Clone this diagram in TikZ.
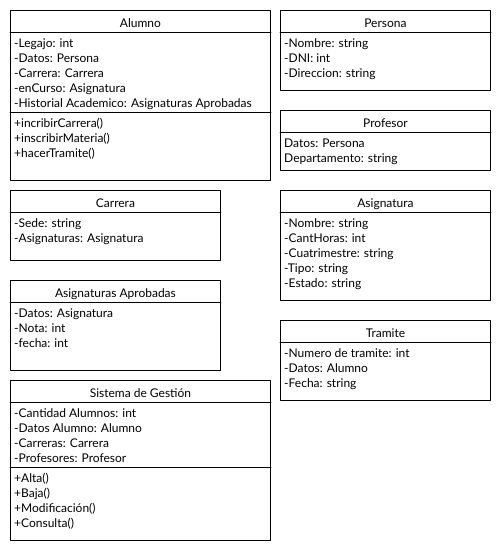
\documentclass[tikz,border=0pt]{standalone}
\usepackage{fontspec}
\setmainfont{Lato}
\usepackage{tikz}
\usetikzlibrary{positioning}

\begin{document}
\begin{tikzpicture}[x=1pt, y=-1pt, line cap=round, line join=round,
    classbox/.style={draw, line width=0.9pt, anchor=north west, inner sep=0pt},
    classtitle/.style={font=\fontsize{12}{15}\selectfont, inner sep=0pt, anchor=base},
    members/.style={font=\fontsize{12}{15}\selectfont, anchor=base west, inner sep=0pt},
    divider/.style={line width=0.9pt}]
        \useasboundingbox (0,0) rectangle (500,550);

        % Alumno
        \node[classbox, minimum width=260pt, minimum height=170pt] (alumno) at (10,10) {};
        \node[classtitle] (alumnoT) at ([yshift=-17pt]alumno.north) {Alumno};
        \draw[divider] ([yshift=-22pt]alumno.north west) -- ([yshift=-22pt]alumno.north east);
        \foreach \txt [count=\i from 0] in {-Legajo: int, -Datos: Persona, -Carrera: Carrera,
                -enCurso: Asignatura, -Historial Academico: Asignaturas Aprobadas}
            \node[members] (alumnoA\i) at ([xshift=4pt, yshift={-(37+15*\i)*1pt}]alumno.north west) {\txt};
        \draw[divider] ([yshift=-102pt]alumno.north west) -- ([yshift=-102pt]alumno.north east);
        \foreach \txt [count=\i from 0] in {+incribirCarrera(), +inscribirMateria(), +hacerTramite()}
            \node[members] (alumnoM\i) at ([xshift=4pt, yshift={-(117+15*\i)*1pt}]alumno.north west) {\txt};

        % Persona
        \node[classbox, minimum width=210pt, minimum height=80pt] (persona) at (280,10) {};
        \node[classtitle] (personaT) at ([yshift=-17pt]persona.north) {Persona};
        \draw[divider] ([yshift=-22pt]persona.north west) -- ([yshift=-22pt]persona.north east);
        \foreach \txt [count=\i from 0] in {-Nombre: string, -DNI: int, -Direccion: string}
            \node[members] (personaA\i) at ([xshift=4pt, yshift={-(37+15*\i)*1pt}]persona.north west) {\txt};

        % Profesor
        \node[classbox, minimum width=210pt, minimum height=60pt] (profesor) at (280,110) {};
        \node[classtitle] (profesorT) at ([yshift=-17pt]profesor.north) {Profesor};
        \draw[divider] ([yshift=-22pt]profesor.north west) -- ([yshift=-22pt]profesor.north east);
        \foreach \txt [count=\i from 0] in {Datos: Persona, Departamento: string}
            \node[members] (profesorA\i) at ([xshift=4pt, yshift={-(37+15*\i)*1pt}]profesor.north west) {\txt};

        % Carrera
        \node[classbox, minimum width=210pt, minimum height=70pt] (carrera) at (10,190) {};
        \node[classtitle] (carreraT) at ([yshift=-17pt]carrera.north) {Carrera};
        \draw[divider] ([yshift=-22pt]carrera.north west) -- ([yshift=-22pt]carrera.north east);
        \foreach \txt [count=\i from 0] in {-Sede: string, -Asignaturas: Asignatura}
            \node[members] (carreraA\i) at ([xshift=4pt, yshift={-(37+15*\i)*1pt}]carrera.north west) {\txt};

        % Asignatura
        \node[classbox, minimum width=210pt, minimum height=110pt] (asignatura) at (280,190) {};
        \node[classtitle] (asignaturaT) at ([yshift=-17pt]asignatura.north) {Asignatura};
        \draw[divider] ([yshift=-22pt]asignatura.north west) -- ([yshift=-22pt]asignatura.north east);
        \foreach \txt [count=\i from 0] in {-Nombre: string, -CantHoras: int, -Cuatrimestre: string,
                -Tipo: string, -Estado: string}
            \node[members] (asignaturaA\i) at ([xshift=4pt, yshift={-(37+15*\i)*1pt}]asignatura.north west) {\txt};

        % Asignaturas Aprobadas
        \node[classbox, minimum width=210pt, minimum height=90pt] (aprobadas) at (10,280) {};
        \node[classtitle] (aprobadasT) at ([yshift=-17pt]aprobadas.north) {Asignaturas Aprobadas};
        \draw[divider] ([yshift=-22pt]aprobadas.north west) -- ([yshift=-22pt]aprobadas.north east);
        \foreach \txt [count=\i from 0] in {-Datos: Asignatura, -Nota: int, -fecha: int}
            \node[members] (aprobadasA\i) at ([xshift=4pt, yshift={-(37+15*\i)*1pt}]aprobadas.north west) {\txt};

        % Tramite
        \node[classbox, minimum width=210pt, minimum height=80pt] (tramite) at (280,320) {};
        \node[classtitle] (tramiteT) at ([yshift=-17pt]tramite.north) {Tramite};
        \draw[divider] ([yshift=-22pt]tramite.north west) -- ([yshift=-22pt]tramite.north east);
        \foreach \txt [count=\i from 0] in {-Numero de tramite: int, -Datos: Alumno, -Fecha: string}
            \node[members] (tramiteA\i) at ([xshift=4pt, yshift={-(37+15*\i)*1pt}]tramite.north west) {\txt};

        % Sistema de Gestion
        \node[classbox, minimum width=260pt, minimum height=160pt] (sistema) at (10,380) {};
        \node[classtitle] (sistemaT) at ([yshift=-17pt]sistema.north) {Sistema de Gestión};
        \draw[divider] ([yshift=-22pt]sistema.north west) -- ([yshift=-22pt]sistema.north east);
        \foreach \txt [count=\i from 0] in {-Cantidad Alumnos: int, -Datos Alumno: Alumno,
                -Carreras: Carrera, -Profesores: Profesor}
            \node[members] (sistemaA\i) at ([xshift=4pt, yshift={-(37+15*\i)*1pt}]sistema.north west) {\txt};
        \draw[divider] ([yshift=-87pt]sistema.north west) -- ([yshift=-87pt]sistema.north east);
        \foreach \txt [count=\i from 0] in {+Alta(), +Baja(), +Modificación(), +Consulta()}
            \node[members] (sistemaM\i) at ([xshift=4pt, yshift={-(102+15*\i)*1pt}]sistema.north west) {\txt};
    \end{tikzpicture}
\end{document}
